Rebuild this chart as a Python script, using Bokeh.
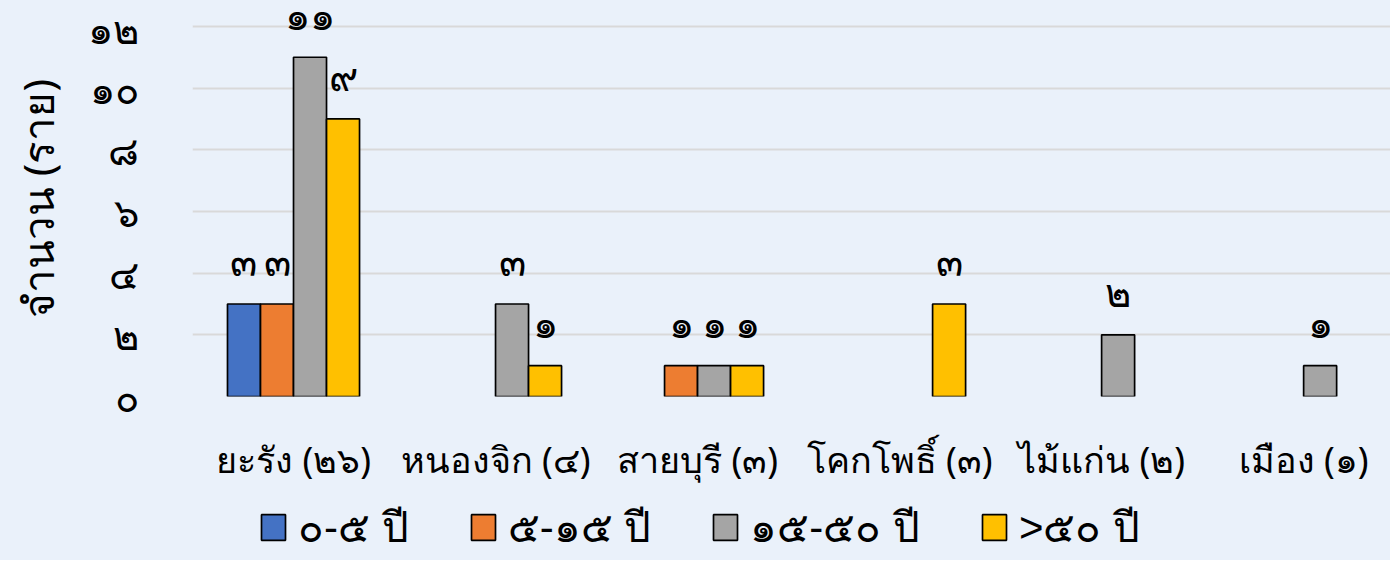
from bokeh.plotting import figure
from bokeh.layouts import column
from bokeh.models import ColumnDataSource, Range1d, FixedTicker, Legend, LegendItem
from bokeh.transform import dodge
from bokeh.core.properties import value
from bokeh.embed import file_html
from bokeh.resources import INLINE

categories = ["ยะรัง (๒๖)", "หนองจิก (๔)", "สายบุรี (๓)", "โคกโพธิ์ (๓)", "ไม้แก่น (๒)", "เมือง (๑)"]
series_names = ["๐-๕ ปี", "๕-๑๕ ปี", "๑๕-๕๐ ปี", ">๕๐ ปี"]
age_0_5 = [3, 0, 0, 0, 0, 0]
age_5_15 = [3, 0, 1, 0, 0, 0]
age_15_50 = [11, 3, 1, 0, 2, 1]
age_50_plus = [9, 1, 1, 3, 0, 0]
y_ticks = [0, 2, 4, 6, 8, 10, 12]

THAI_DIGITS = "๐๑๒๓๔๕๖๗๘๙"


def thai(n):
    return "".join(THAI_DIGITS[int(c)] for c in str(n))


colors = ["#4472C4", "#ED7D31", "#A5A5A5", "#FFC000"]
FONT = "Noto Sans"
LEGEND_FONT = "Liberation Sans"
BG = "#EAF1FA"

p = figure(width=1390, height=500, output_backend="svg", toolbar_location=None,
           x_range=Range1d(-0.5, 5.43), y_range=Range1d(0, 12.84),
           min_border_left=192, min_border_right=0, min_border_top=0, min_border_bottom=104)
p.background_fill_color = BG
p.border_fill_color = BG
p.outline_line_color = None

lg = figure(width=1390, height=60, output_backend="svg", toolbar_location=None,
            x_axis_type=None, y_axis_type=None, x_range=Range1d(-0.5, 5.43), y_range=Range1d(100, 101),
            min_border_left=192, min_border_right=0, min_border_top=0, min_border_bottom=0)
lg.background_fill_color = BG
lg.border_fill_color = BG
lg.outline_line_color = None
lg.xgrid.grid_line_color = None
lg.ygrid.grid_line_color = None

bw = 0.1634
offsets = [-1.5 * bw, -0.5 * bw, 0.5 * bw, 1.5 * bw]
all_series = [age_0_5, age_5_15, age_15_50, age_50_plus]
items = []
for name, vals, col, off in zip(series_names, all_series, colors, offsets):
    idx = [i for i, v in enumerate(vals) if v > 0]
    src = ColumnDataSource(dict(x=idx, top=[vals[i] for i in idx], label=[thai(vals[i]) for i in idx]))
    p.vbar(x=dodge("x", off, range=p.x_range), top="top", bottom=0, width=bw, source=src,
           fill_color=col, line_color="black", line_width=1.7)
    p.text(x=dodge("x", off, range=p.x_range), y="top", text="label", source=src,
           y_offset=-43, text_align="center", text_baseline="middle",
           text_font=value(FONT), text_font_size="40px", text_color="black")
    # same series in the legend strip, hidden: only its legend swatch is drawn
    r = lg.vbar(x=dodge("x", off, range=lg.x_range), top="top", bottom=0, width=bw, source=src,
                fill_color=col, line_color="black", line_width=1.7, visible=False)
    items.append(LegendItem(label=name, renderers=[r]))

p.xgrid.grid_line_color = None
p.ygrid.grid_line_color = "#D9D9D9"
p.ygrid.grid_line_width = 2

p.yaxis.ticker = FixedTicker(ticks=y_ticks)
p.yaxis.major_label_overrides = {t: thai(t) for t in y_ticks}
p.yaxis.axis_line_color = None
p.yaxis.major_tick_line_color = None
p.yaxis.minor_tick_line_color = None
p.yaxis.major_label_standoff = 48
p.yaxis.major_label_text_font = FONT
p.yaxis.major_label_text_font_size = "40px"
p.yaxis.major_label_text_color = "black"
p.yaxis.axis_label = "จำนวน (ราย)"
p.yaxis.axis_label_text_font = FONT
p.yaxis.axis_label_text_font_size = "42px"
p.yaxis.axis_label_text_font_style = "normal"
p.yaxis.axis_label_text_color = "black"
p.yaxis.axis_label_standoff = 19

p.xaxis.ticker = FixedTicker(ticks=list(range(len(categories))))
p.xaxis.major_label_overrides = {i: c for i, c in enumerate(categories)}
p.xaxis.axis_line_color = None
p.xaxis.major_tick_line_color = None
p.xaxis.minor_tick_line_color = None
p.xaxis.major_label_standoff = 32
p.xaxis.major_label_text_font = FONT
p.xaxis.major_label_text_font_size = "36px"
p.xaxis.major_label_text_color = "black"

legend = Legend(items=items, orientation="horizontal", location=(66, 0),
                glyph_width=30, glyph_height=32, label_standoff=10, spacing=59,
                label_text_font=LEGEND_FONT, label_text_font_size="42px", label_text_color="black",
                background_fill_alpha=0, border_line_color=None, padding=0, margin=0,
                inactive_fill_alpha=0)
lg.add_layout(legend, "center")

layout = column(p, lg, spacing=0, styles={"background-color": BG})
open("out.html", "w").write(file_html(layout, INLINE))
